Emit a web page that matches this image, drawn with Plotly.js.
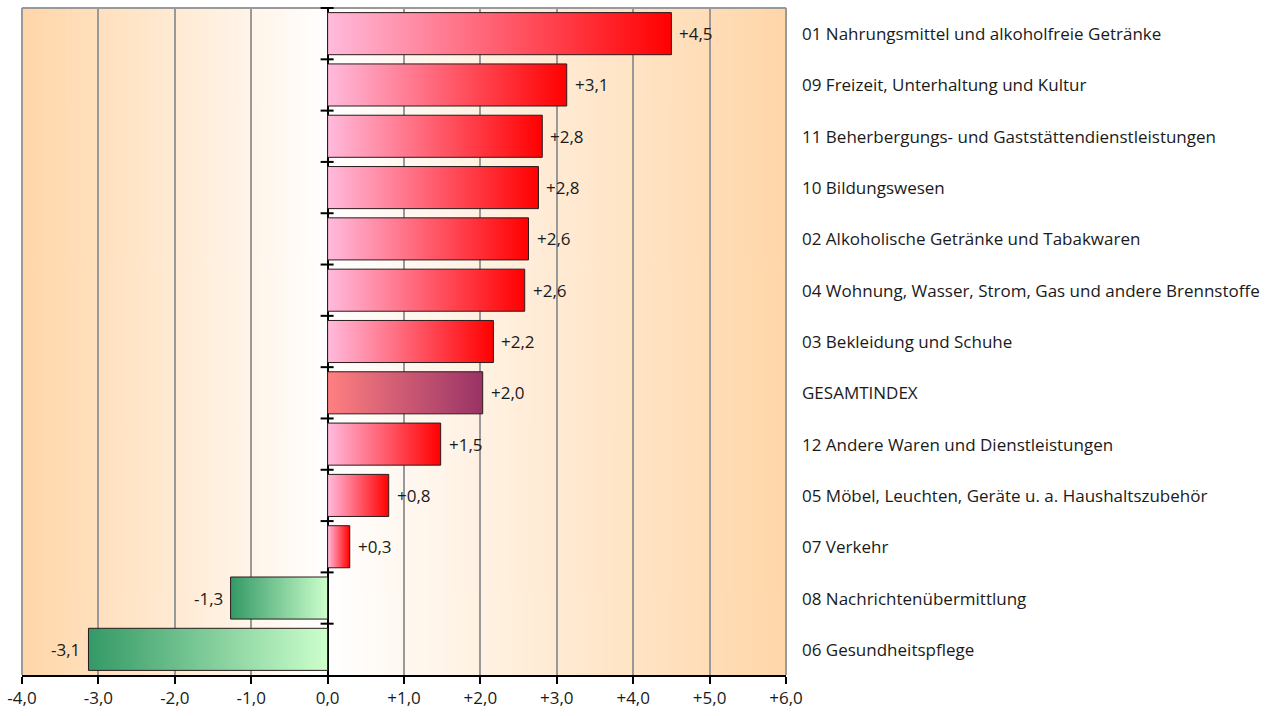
<!DOCTYPE html>
<html>
<head>
<meta charset="utf-8">
<script src="https://cdn.plot.ly/plotly-3.0.1.min.js"></script>
<style>html,body{margin:0;padding:0;background:#fff;}#chart{width:1281px;height:716px;}</style>
</head>
<body>
<div id="chart"></div>
<script>
const categories = [
  "01 Nahrungsmittel und alkoholfreie Getränke",
  "09 Freizeit, Unterhaltung und Kultur",
  "11 Beherbergungs- und Gaststättendienstleistungen",
  "10 Bildungswesen",
  "02 Alkoholische Getränke und Tabakwaren",
  "04 Wohnung, Wasser, Strom, Gas und andere Brennstoffe",
  "03 Bekleidung und Schuhe",
  "GESAMTINDEX",
  "12 Andere Waren und Dienstleistungen",
  "05 Möbel, Leuchten, Geräte u. a. Haushaltszubehör",
  "07 Verkehr",
  "08 Nachrichtenübermittlung",
  "06 Gesundheitspflege"
];
const values = [4.50, 3.13, 2.81, 2.76, 2.63, 2.58, 2.17, 2.03, 1.48, 0.80, 0.29, -1.27, -3.13];
const totalLabel = "GESAMTINDEX";
const tickVals = [-4, -3, -2, -1, 0, 1, 2, 3, 4, 5, 6];
const tickText = ["-4,0", "-3,0", "-2,0", "-1,0", "0,0", "+1,0", "+2,0", "+3,0", "+4,0", "+5,0", "+6,0"];

const posScale = [[0, '#FFBBDD'], [1, '#FF0000']];
const totScale = [[0, '#FF8080'], [1, '#993366']];
const negScale = [[0, '#339966'], [1, '#CCFFCC']];
const fontFam = '"Open Sans", "Noto Sans", sans-serif';
const fs = 17;

const xMin = tickVals[0], xMax = tickVals[tickVals.length - 1];
const zeroFrac = (0 - xMin) / (xMax - xMin);

// background gradient image
const cv = document.createElement('canvas');
cv.width = 1000; cv.height = 4;
const ctx = cv.getContext('2d');
const g = ctx.createLinearGradient(0, 0, 1000, 0);
g.addColorStop(0, '#FFD6A8');
g.addColorStop(zeroFrac, '#FFFFFF');
g.addColorStop(1, '#FFD6A8');
ctx.fillStyle = g; ctx.fillRect(0, 0, 1000, 4);
const bgURL = cv.toDataURL('image/png');

const half = 0.41;
const traces = values.map((v, i) => ({
  type: 'scatter', mode: 'lines',
  x: [0, v, v, 0, 0],
  y: [i - half, i - half, i + half, i + half, i - half],
  fill: 'toself',
  fillgradient: {type: 'horizontal', colorscale: categories[i] === totalLabel ? totScale : (v >= 0 ? posScale : negScale)},
  line: {color: '#2a1a1a', width: 1},
  hoverinfo: 'skip', showlegend: false
}));

const fmt = v => (v > 0 ? '+' : '') + v.toFixed(1).replace('.', ',');

const annotations = [];
values.forEach((v, i) => {
  annotations.push({
    x: v, y: i, xref: 'x', yref: 'y', text: fmt(v), showarrow: false,
    xanchor: v >= 0 ? 'left' : 'right', xshift: v >= 0 ? 6 : -6,
    font: {family: fontFam, size: fs, color: '#1a1a1a'}
  });
  annotations.push({
    x: 1, y: i, xref: 'paper', yref: 'y', text: categories[i], showarrow: false,
    xanchor: 'left', xshift: 14,
    font: {family: fontFam, size: fs, color: '#1a1a1a'}
  });
});

const shapes = [];
for (let b = 1; b < categories.length; b++) {
  shapes.push({type: 'line', xref: 'x', xsizemode: 'pixel', xanchor: 0, x0: -7, x1: 6,
    yref: 'y', y0: b - 0.5, y1: b - 0.5, line: {color: '#000', width: 2}});
}
// top boundary tick (not clipped)
shapes.push({type: 'line', xref: 'paper', xsizemode: 'pixel', xanchor: zeroFrac, x0: -7, x1: 6,
  yref: 'paper', y0: 1, y1: 1, line: {color: '#000', width: 2}});
shapes.push({type: 'line', xref: 'paper', yref: 'paper', x0: 0, x1: 1, y0: 1, y1: 1, line: {color: '#999', width: 2}, layer: 'below'});
shapes.push({type: 'line', xref: 'paper', yref: 'paper', x0: 0, x1: 0, y0: 0, y1: 1, line: {color: '#999', width: 2}});
shapes.push({type: 'line', xref: 'paper', yref: 'paper', x0: 1, x1: 1, y0: 0, y1: 1, line: {color: '#999', width: 2}});

const layout = {
  width: 1281, height: 716,
  margin: {l: 22, r: 495, t: 8, b: 41},
  paper_bgcolor: '#ffffff', plot_bgcolor: 'rgba(0,0,0,0)',
  font: {family: fontFam, size: fs, color: '#1a1a1a'},
  showlegend: false,
  xaxis: {
    range: [xMin, xMax], tickvals: tickVals, ticktext: tickText,
    showgrid: true, gridcolor: '#999999', gridwidth: 2,
    zeroline: true, zerolinecolor: '#000', zerolinewidth: 2,
    showline: true, linecolor: '#000', linewidth: 2,
    ticks: 'outside', ticklen: 7, tickwidth: 2, tickcolor: '#000',
    tickfont: {family: fontFam, size: fs, color: '#1a1a1a'},
    fixedrange: true
  },
  yaxis: {
    range: [categories.length - 0.5, -0.5],
    showgrid: false, zeroline: false, showticklabels: false, ticks: '', showline: false,
    fixedrange: true
  },
  images: [{source: bgURL, xref: 'paper', yref: 'paper', x: 0, y: 1, sizex: 1, sizey: 1,
    xanchor: 'left', yanchor: 'top', sizing: 'stretch', layer: 'below'}],
  annotations: annotations,
  shapes: shapes
};

Plotly.newPlot('chart', traces, layout, {displayModeBar: false, staticPlot: true});
</script>
</body>
</html>
